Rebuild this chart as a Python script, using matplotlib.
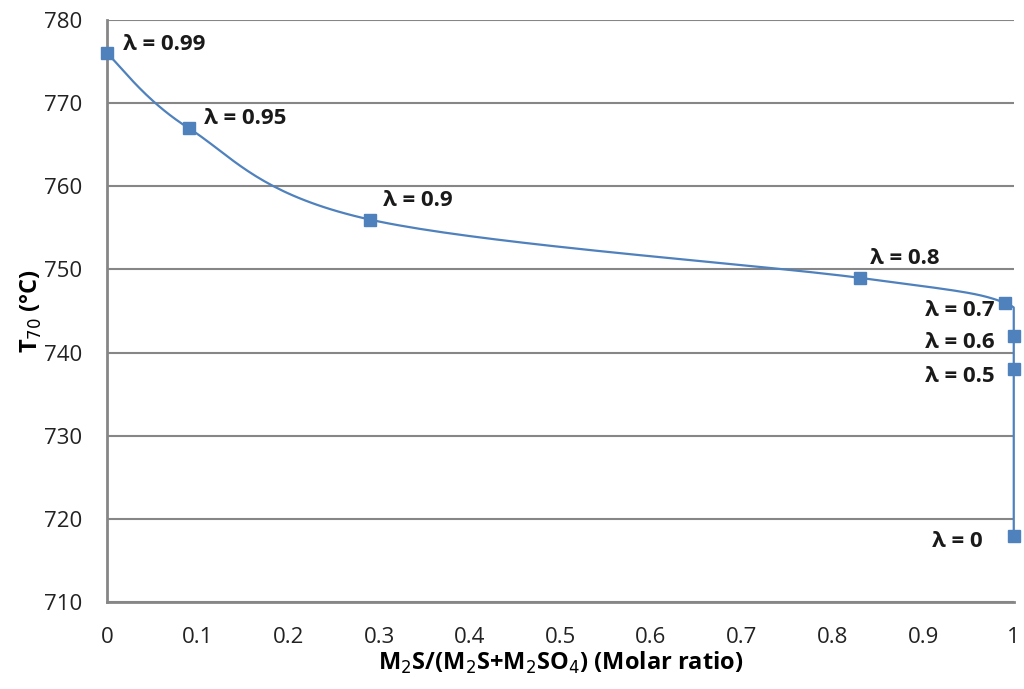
import numpy as np
import matplotlib
matplotlib.use("Agg")
import matplotlib.pyplot as plt

# molar ratio vs T70, one point per lambda
ratio = [0.0, 0.09, 0.29, 0.83, 0.99, 1.0, 1.0, 1.0]
t70 = [776, 767, 756, 749, 746, 742, 738, 718]
labels = ["λ = 0.99", "λ = 0.95", "λ = 0.9", "λ = 0.8",
          "λ = 0.7", "λ = 0.6", "λ = 0.5", "λ = 0"]

xticks = [0, 0.1, 0.2, 0.3, 0.4, 0.5, 0.6, 0.7, 0.8, 0.9, 1]
xticklabels = ["0", "0.1", "0.2", "0.3", "0.4", "0.5", "0.6", "0.7", "0.8", "0.9", "1"]
yticks = [710, 720, 730, 740, 750, 760, 770, 780]

blue = "#4F81BD"
grey = "#868686"

plt.rcParams['font.family'] = ['Open Sans', 'DejaVu Sans']

fig = plt.figure(figsize=(10.24, 6.89), dpi=100)
ax = fig.add_axes([0.1045, 0.126, 0.8855, 0.845])
ax.set_xlim(0, 1)
ax.set_ylim(710, 780)


# excel style smoothed line: bezier through points, done in screen coords
def smooth(xs, ys, n=40):
    pts = ax.transData.transform(np.column_stack([xs, ys]))
    out = []
    for i in range(len(pts) - 1):
        p0 = pts[max(i - 1, 0)]
        p1 = pts[i]
        p2 = pts[i + 1]
        p3 = pts[min(i + 2, len(pts) - 1)]
        c1 = p1 + (p2 - p0) / 6.0
        c2 = p2 - (p3 - p1) / 6.0
        t = np.linspace(0, 1, n)[:, None]
        seg = ((1 - t) ** 3 * p1 + 3 * (1 - t) ** 2 * t * c1
               + 3 * (1 - t) * t ** 2 * c2 + t ** 3 * p2)
        out.append(seg)
    out = np.vstack(out)
    return ax.transData.inverted().transform(out)


curve = smooth(ratio, t70)
cx = np.minimum(curve[:, 0], 1.0)  # keep the bend from poking past x=1
ax.plot(cx, curve[:, 1], color=blue, lw=1.6, clip_on=False, zorder=3)
ax.plot(ratio, t70, ls="none", marker="s", ms=8.5, color=blue, clip_on=False, zorder=4)

# label offsets in pixels (dx, dy, ha)
offs = [(16, 9, "left"), (15, 10, "left"), (13, 19, "left"), (10, 19, "left"),
        (-10, -8, "right"), (-19, -6, "right"), (-19, -7, "right"), (-31, -6, "right")]
for x, y, lab, (dx, dy, ha) in zip(ratio, t70, labels, offs):
    ax.annotate(lab, (x, y), xytext=(dx, dy), textcoords="offset pixels",
                ha=ha, va="center", fontsize=16, fontweight="bold", color="#1a1a1a")

ax.set_xticks(xticks)
ax.set_xticklabels(xticklabels)
ax.set_yticks(yticks)
ax.tick_params(length=0, labelsize=16, colors="#222222", pad=18)
ax.grid(axis="y", color=grey, lw=1.5)
ax.set_axisbelow(True)
for s in ["top", "right"]:
    ax.spines[s].set_visible(False)
for s in ["left", "bottom"]:
    ax.spines[s].set_color(grey)
    ax.spines[s].set_linewidth(2)

ax.set_xlabel("M$_2$S/(M$_2$S+M$_2$SO$_4$) (Molar ratio)", fontsize=17, fontweight="bold", labelpad=1)
ax.set_ylabel("T$_{70}$ (°C)", fontsize=17, fontweight="bold", labelpad=0)

fig.savefig("out.png", dpi=100)
